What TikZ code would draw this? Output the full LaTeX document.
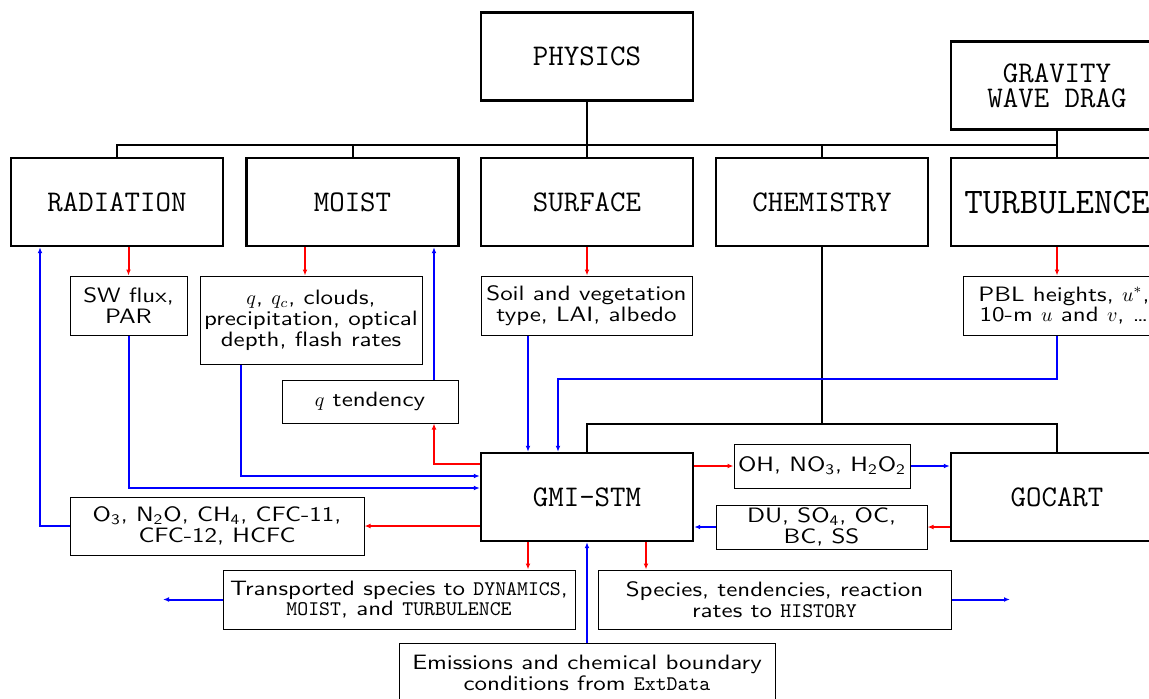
\documentclass[tikz,border=0pt]{standalone}
\usepackage{fontspec}
\setsansfont{lmsans10-regular.otf}[FakeStretch=1.2]
\usetikzlibrary{arrows.meta}
\begin{document}
\begin{tikzpicture}[x=0.5pt,y=-0.5pt,
big/.style={draw=black, line width=1.2pt, minimum width=106pt, minimum height=44pt, inner sep=0pt, align=center, font=\ttfamily\fontsize{15}{11}\selectfont},
small/.style={draw=black, line width=0.5pt, inner sep=0pt, align=center, font=\sffamily\fontsize{10.4}{10.4}\selectfont},
tree/.style={line width=1pt},
rarr/.style={red, line width=1pt, -{Latex[length=3pt,width=2.4pt]}},
barr/.style={blue, line width=1pt, -{Latex[length=3pt,width=2.4pt]}}]
\useasboundingbox (0,0) rectangle (1149,698);
\node[big] (phys) at (587,56.5) {PHYSICS};
\node[big, font=\ttfamily\fontsize{15}{12.5}\selectfont] (gwd) at (1057,85.5) {GRAVITY\\WAVE DRAG};
\node[big] (rad) at (117,202) {RADIATION};
\node[big] (moist) at (352.5,202) {MOIST};
\node[big] (surf) at (587,202) {SURFACE};
\node[big] (chem) at (822,202) {CHEMISTRY};
\node[big, font=\ttfamily\fontsize{18}{12}\selectfont] (turb) at (1057,202) {TURBULENCE};
\node[big] (gmi) at (587,497) {GMI-STM};
\node[big] (gocart) at (1057,497) {GOCART};
\node[small, minimum width=58.5pt, minimum height=29.5pt] (sw) at (128.5,305.5) {SW flux,\\PAR};
\node[small, minimum width=111pt, minimum height=44pt] (qbox) at (311,320) {$q$, $q_c$, clouds,\\precipitation, optical\\depth, flash rates};
\node[small, minimum width=88pt, minimum height=21.5pt] (qtend) at (370,401.5) {$q$ tendency};
\node[small, minimum width=105.5pt, minimum height=29.5pt] (soil) at (586.5,305.5) {Soil and vegetation\\type, LAI, albedo};
\node[small, minimum width=101pt, minimum height=29.5pt] (pbl) at (1064,305.5) {PBL heights, $u^*$,\\10-m $u$ and $v$, \dots};
\node[small, minimum width=88pt, minimum height=22pt] (oh) at (822,466) {OH, NO\textsubscript{3}, H\textsubscript{2}O\textsubscript{2}};
\node[small, minimum width=105.5pt, minimum height=22pt] (du) at (821.5,527) {DU, SO\textsubscript{4}, OC,\\BC, SS};
\node[small, minimum width=147pt, minimum height=29pt] (o3) at (217,526) {O\textsubscript{3}, N\textsubscript{2}O, CH\textsubscript{4}, CFC-11,\\CFC-12, HCFC};
\node[small, minimum width=176pt, minimum height=29.5pt] (trans) at (399,599.5) {Transported species to \texttt{DYNAMICS},\\\texttt{MOIST}, and \texttt{TURBULENCE}};
\node[small, minimum width=176.5pt, minimum height=29.5pt] (spec) at (774.5,599.5) {Species, tendencies, reaction\\rates to \texttt{HISTORY}};
\node[small, minimum width=188pt, minimum height=29.5pt] (emis) at (587,672.5) {Emissions and chemical boundary\\conditions from \texttt{ExtData}};
\coordinate (bus) at (587,145);
\coordinate (cbus) at (822,424);
\coordinate (dynout) at (163,599.5);
\coordinate (histout) at (1010,599.5);
\draw[tree] (phys.south) -- (bus);
\draw[tree] (rad.north) |- (bus) -| (turb.north);
\draw[tree] (moist.north) -- (moist.north |- bus);
\draw[tree] (surf.north) -- (bus);
\draw[tree] (chem.north) -- (chem.north |- bus);
\draw[tree] (gwd.south) -- (turb.north);
\draw[tree] (chem.south) -- (cbus);
\draw[tree] (gmi.north) |- (cbus) -| (gocart.north);
\draw[rarr] (rad.south -| sw.north) -- (sw.north);
\draw[rarr] (moist.south -| 305,0) -- (qbox.north -| 305,0);
\draw[rarr] (surf.south) -- (soil.north -| surf.south);
\draw[rarr] (turb.south) -- (pbl.north -| turb.south);
\draw[barr] (o3.west) -| (rad.south -| 40,0);
\draw[barr] (sw.south) |- (gmi.west |- 0,488);
\draw[barr] (qbox.south -| 241,0) |- (gmi.west |- 0,476);
\draw[rarr] (gmi.west |- 0,464) -| (qtend.south -| 434,0);
\draw[barr] (qtend.north -| 434,0) -- (moist.south -| 434,0);
\draw[rarr] (gmi.west |- 0,526) -- (o3.east);
\draw[barr] (soil.south -| 528,0) -- (gmi.north -| 528,0);
\draw[barr] (pbl.south -| turb.south) |- (558,379) -- (gmi.north -| 558,0);
\draw[rarr] (gmi.east |- oh.west) -- (oh.west);
\draw[barr] (oh.east) -- (gocart.west |- oh.east);
\draw[rarr] (gocart.west |- du.east) -- (du.east);
\draw[barr] (du.west) -- (gmi.east |- du.west);
\draw[rarr] (gmi.south -| 528,0) -- (trans.north -| 528,0);
\draw[rarr] (gmi.south -| 646,0) -- (spec.north -| 646,0);
\draw[barr] (emis.north) -- (gmi.south);
\draw[barr] (trans.west) -- (dynout);
\draw[barr] (spec.east) -- (histout);
\end{tikzpicture}
\end{document}
